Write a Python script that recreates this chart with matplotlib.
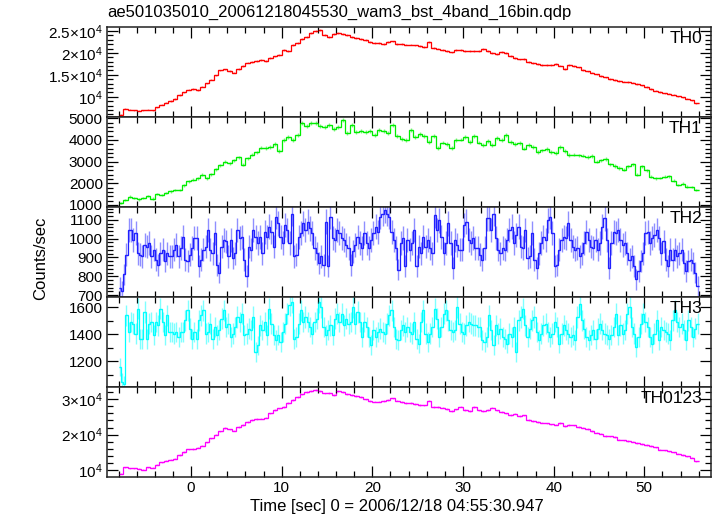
import numpy as np
import matplotlib
matplotlib.use("Agg")
import matplotlib.pyplot as plt
from matplotlib.ticker import FixedLocator, MultipleLocator, FixedFormatter, NullFormatter

plt.rcParams['font.family'] = ['Liberation Sans', 'DejaVu Sans']
plt.rcParams['mathtext.fontset'] = 'custom'
plt.rcParams['mathtext.rm'] = 'Liberation Sans'
plt.rcParams['mathtext.it'] = 'Liberation Sans:italic'
plt.rcParams['mathtext.bf'] = 'Liberation Sans:bold'

title = "ae501035010_20061218045530_wam3_bst_4band_16bin.qdp"
xlabel = "Time [sec] 0 = 2006/12/18 04:55:30.947"
ylabel = "Counts/sec"
band_names = ["TH0", "TH1", "TH2", "TH3", "TH0123"]
band_colors = ["#ff0000", "#00ee00", "#2020ff", "#00ffff", "#ff00ff"]

t_start = -8.0
dt_smooth = 0.5
dt_noisy = 0.25

th0 = [5900, 7300, 7000, 6900, 6850, 6950, 7100, 6950, 7600, 8200, 8700, 9050, 9500, 10400, 11000, 11600,
       11750, 11550, 12300, 13050, 13900, 14900, 16000, 16250, 15900, 15500, 16300, 17000, 17800, 18000, 18100, 18400,
       18100, 18900, 19200, 19600, 20700, 20400, 21800, 22200, 23200, 23700, 24500, 24900, 25200, 24100, 23700, 24200,
       24600, 24300, 24000, 23700, 23400, 23100, 22900, 22400, 22200, 22300, 22100, 22500, 22600, 22100, 22000, 21900,
       21900, 21700, 21500, 21300, 22400, 21200, 21000, 20700, 20400, 20100, 20600, 20600, 20400, 20500, 20400, 20500,
       20900, 20400, 20000, 19700, 20200, 20000, 19300, 18900, 18500, 18600, 18000, 17700, 17400, 17300, 17200, 17300,
       17400, 17100, 16400, 17200, 17000, 16700, 16100, 15800, 15500, 15100, 14700, 14400, 14100, 13800, 13600, 13450,
       13350, 13200, 12900, 12600, 12200, 11800, 11400, 11100, 10800, 10750, 10500, 10100, 9900, 9600, 9200, 8500]

th1 = [1100, 1220, 1380, 1320, 1250, 1300, 1420, 1290, 1500, 1440, 1540, 1620, 1690, 1680, 1900, 2090,
       2170, 2230, 2380, 2220, 2420, 2650, 2820, 3000, 2920, 3060, 3200, 2850, 3150, 3320, 3420, 3650,
       3620, 3680, 3820, 3480, 3980, 4150, 4000, 4250, 4800, 4650, 4770, 4800, 4640, 4610, 4700, 4500,
       4600, 4920, 4320, 4700, 4350, 4400, 4380, 4420, 4230, 4450, 4400, 4300, 4700, 4200, 4050, 4000,
       4480, 4150, 4280, 4180, 3920, 4200, 3620, 3880, 3820, 3620, 3980, 4020, 4120, 3920, 4180, 3880,
       3780, 3960, 3760, 4100, 3990, 4250, 3900, 3830, 3870, 3600, 3750, 3680, 3450, 3520, 3580, 3450,
       3400, 3660, 3480, 3300, 3320, 3290, 3270, 3220, 3260, 3000, 3060, 3120, 2880, 2800, 2700, 2620,
       2780, 2880, 2400, 2780, 2600, 2300, 2220, 2240, 2300, 2330, 2120, 1920, 1980, 1840, 1830, 1680]

th2 = [740, 722, 810, 915, 1046, 1046, 993, 1028, 923, 915, 906, 967, 958, 976, 906, 941,
       888, 862, 923, 941, 880, 923, 906, 906, 941, 967, 906, 950, 1011, 888, 880, 915,
       950, 1002, 1002, 854, 888, 941, 958, 1046, 941, 923, 1028, 862, 819, 958, 993, 985,
       906, 993, 897, 923, 1046, 1002, 1011, 888, 801, 958, 941, 1046, 1011, 976, 1011, 923,
       1037, 1011, 1063, 1037, 958, 1116, 1081, 1011, 976, 1072, 1046, 976, 1133, 906, 915, 1011,
       1028, 1081, 1046, 1090, 1055, 1028, 950, 923, 871, 906, 862, 1090, 854, 1116, 1002, 993,
       1046, 1028, 1002, 993, 967, 950, 862, 932, 967, 1011, 976, 950, 1028, 976, 950, 993,
       1028, 1063, 1037, 1116, 1133, 1150, 1133, 1116, 1037, 993, 950, 836, 976, 1002, 854, 993,
       941, 976, 1046, 854, 958, 923, 1011, 958, 993, 950, 923, 1125, 1046, 1098, 1011, 923,
       976, 1081, 976, 845, 993, 967, 941, 941, 1072, 1090, 993, 976, 1002, 950, 950, 915,
       888, 950, 1107, 1107, 1046, 1133, 1002, 941, 923, 950, 941, 993, 1046, 1063, 976, 1020,
       1063, 958, 950, 1046, 897, 906, 1028, 888, 845, 923, 976, 1011, 993, 1098, 1116, 1028,
       854, 862, 941, 993, 1011, 1002, 1081, 993, 958, 941, 950, 906, 923, 976, 1037, 993,
       958, 950, 993, 941, 976, 1063, 1107, 993, 845, 976, 1037, 1028, 1046, 993, 967, 976,
       923, 888, 906, 854, 784, 827, 880, 923, 1028, 1037, 976, 1002, 1020, 1046, 1002, 923,
       985, 888, 854, 941, 888, 941, 906, 923, 941, 871, 827, 880, 888, 871, 819, 749]

th3 = [1158, 1047, 1030, 1540, 1417, 1491, 1479, 1405, 1590, 1368, 1368, 1565, 1368, 1479, 1491, 1393,
       1491, 1467, 1590, 1491, 1393, 1541, 1417, 1417, 1405, 1417, 1380, 1417, 1417, 1504, 1578, 1442,
       1368, 1417, 1368, 1504, 1541, 1578, 1405, 1417, 1479, 1368, 1454, 1393, 1430, 1516, 1578, 1454,
       1479, 1380, 1405, 1454, 1528, 1491, 1553, 1393, 1405, 1442, 1430, 1528, 1269, 1318, 1467, 1430,
       1491, 1393, 1590, 1479, 1393, 1356, 1393, 1343, 1417, 1479, 1553, 1615, 1640, 1368, 1380, 1479,
       1578, 1491, 1528, 1491, 1454, 1405, 1491, 1516, 1640, 1603, 1454, 1393, 1430, 1467, 1393, 1516,
       1553, 1491, 1553, 1467, 1516, 1479, 1491, 1603, 1479, 1565, 1491, 1380, 1491, 1454, 1380, 1319,
       1430, 1380, 1417, 1442, 1417, 1405, 1479, 1541, 1578, 1454, 1368, 1356, 1430, 1467, 1417, 1454,
       1417, 1405, 1491, 1368, 1331, 1491, 1578, 1405, 1343, 1405, 1454, 1590, 1516, 1380, 1454, 1553,
       1578, 1504, 1430, 1417, 1430, 1603, 1479, 1417, 1405, 1467, 1491, 1479, 1467, 1467, 1454, 1454,
       1356, 1343, 1380, 1541, 1430, 1319, 1467, 1405, 1442, 1380, 1368, 1331, 1405, 1380, 1454, 1269,
       1504, 1528, 1590, 1467, 1380, 1442, 1504, 1528, 1417, 1356, 1405, 1467, 1479, 1417, 1380, 1405,
       1491, 1454, 1331, 1405, 1467, 1430, 1405, 1380, 1393, 1356, 1528, 1627, 1504, 1442, 1380, 1356,
       1393, 1430, 1368, 1442, 1479, 1430, 1405, 1393, 1368, 1393, 1454, 1553, 1393, 1467, 1405, 1430,
       1553, 1603, 1454, 1405, 1306, 1380, 1479, 1553, 1491, 1454, 1380, 1331, 1405, 1504, 1356, 1454,
       1430, 1417, 1405, 1356, 1504, 1578, 1491, 1454, 1479, 1430, 1356, 1504, 1454, 1380, 1442, 1479]

th0123 = [9000, 10800, 10600, 10500, 10400, 10200, 10900, 10700, 11500, 12200, 12700, 12900, 13300, 14300, 15100, 15900,
          16000, 16300, 16900, 17800, 19000, 20000, 20900, 21900, 21500, 21100, 22200, 22700, 23500, 24200, 24400, 24500,
          24800, 26000, 26900, 27400, 27700, 28900, 29700, 30600, 31300, 32100, 32200, 32600, 32300, 31600, 31800, 31200,
          32200, 31900, 31500, 31200, 30800, 30500, 29900, 29400, 29300, 29300, 29500, 29800, 30200, 29600, 29200, 29000,
          28900, 28600, 28300, 28200, 29600, 27800, 27700, 27600, 27300, 26600, 27100, 27900, 26900, 26600, 27800, 26800,
          26600, 26900, 27600, 26800, 26400, 26000, 25500, 25900, 25300, 25400, 24200, 23800, 23600, 23400, 23200, 22900,
          22800, 23300, 22400, 22700, 22600, 22100, 22000, 21600, 21000, 20600, 20300, 19600, 19500, 19300, 18600, 18400,
          18200, 18000, 17700, 17400, 17100, 16800, 16400, 15800, 15600, 15300, 15000, 14700, 14300, 13900, 13500, 12500]

series = [(th0, dt_smooth), (th1, dt_smooth), (th2, dt_noisy), (th3, dt_noisy), (th0123, dt_smooth)]

ylims = [(5400, 25900), (900, 5060), (690, 1168), (1010, 1676), (8100, 33400)]
ymajor = [[10000, 15000, 20000, 25000], [1000, 2000, 3000, 4000, 5000], [700, 800, 900, 1000, 1100],
          [1200, 1400, 1600], [10000, 20000, 30000]]
ymajor_labels = [["10$^{4}$", "1.5×10$^{4}$", "2×10$^{4}$", "2.5×10$^{4}$"],
                 ["1000", "2000", "3000", "4000", "5000"],
                 ["700", "800", "900", "1000", "1100"],
                 ["1200", "1400", "1600"],
                 ["10$^{4}$", "2×10$^{4}$", "3×10$^{4}$"]]
yminor = [1000, 200, 20, 100, 2000]
xlim = (-9.27, 57.36)
xticks = [0, 10, 20, 30, 40, 50]

W, H = 717, 516
fig = plt.figure(figsize=(W / 100, H / 100), dpi=100)
left, right = 107 / W, 711 / W
top_px, panel_px = 27, 90

axes = []
for i in range(5):
    y0 = 1 - (top_px + panel_px * (i + 1)) / H
    ax = fig.add_axes([left, y0, right - left, panel_px / H])
    axes.append(ax)
    vals, dt = series[i]
    v = np.asarray(vals, dtype=float)
    t = t_start + dt * (np.arange(len(v)) + 0.5)
    err = np.sqrt(v * dt) / dt
    col = band_colors[i]
    ax.errorbar(t, v, yerr=err, xerr=dt / 2, fmt='none', ecolor=col, elinewidth=1.0,
                alpha=0.5, capsize=0)
    edges = np.concatenate([t - dt / 2, [t[-1] + dt / 2]])
    ax.stairs(v, edges, color=col, lw=0.9, baseline=None)
    ax.set_xlim(*xlim)
    ax.set_ylim(*ylims[i])
    ax.yaxis.set_major_locator(FixedLocator(ymajor[i]))
    ax.yaxis.set_major_formatter(FixedFormatter(ymajor_labels[i]))
    ax.yaxis.set_minor_locator(MultipleLocator(yminor[i]))
    ax.xaxis.set_major_locator(FixedLocator(xticks))
    ax.xaxis.set_minor_locator(MultipleLocator(2))
    ax.tick_params(which='both', direction='in', top=True, right=True, labelsize=11,
                   colors='black', width=0.9, pad=3)
    ax.tick_params(which='major', length=8)
    ax.tick_params(which='minor', length=4)
    for s in ax.spines.values():
        s.set_linewidth(1.1)
        s.set_color('#222222')
    if i < 4:
        ax.xaxis.set_major_formatter(NullFormatter())
    else:
        ax.set_xticklabels([str(x) for x in xticks])
    ax.text(0.985, 0.87, band_names[i], transform=ax.transAxes, ha='right', va='center',
            fontsize=12.5)

fig.text(left, 1 - 12 / H, title, ha='left', va='center', fontsize=12)
fig.text(41 / W, 0.5, ylabel, rotation=90, ha='center', va='center', fontsize=12)
fig.text(397 / W, 1 - 507 / H, xlabel, ha='center', va='center', fontsize=12)

fig.savefig("out.png", dpi=100)
